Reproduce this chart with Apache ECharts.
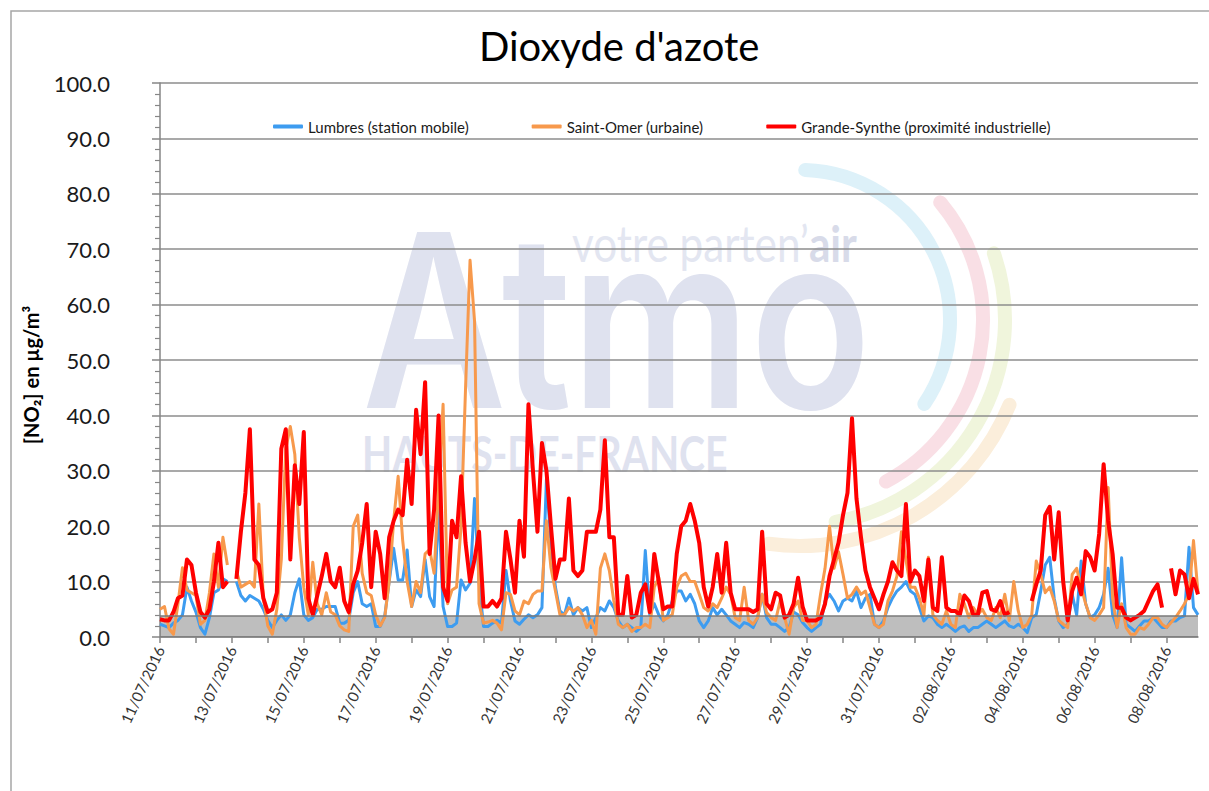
<!DOCTYPE html>
<html>
<head>
<meta charset="utf-8">
<title>Dioxyde d'azote</title>
<script src="https://cdn.jsdelivr.net/npm/echarts@6/dist/echarts.min.js"></script>
<style>
  html, body { margin: 0; padding: 0; background: #fff; }
  #chart { width: 1209px; height: 791px; }
</style>
</head>
<body>
<div id="chart"></div>
<script>
// un point toutes les 3 heures, du 11/07/2016 au 08/08/2016
var days = ['11/07/2016', '12/07/2016', '13/07/2016', '14/07/2016', '15/07/2016', '16/07/2016',
  '17/07/2016', '18/07/2016', '19/07/2016', '20/07/2016', '21/07/2016', '22/07/2016', '23/07/2016',
  '24/07/2016', '25/07/2016', '26/07/2016', '27/07/2016', '28/07/2016', '29/07/2016', '30/07/2016',
  '31/07/2016', '01/08/2016', '02/08/2016', '03/08/2016', '04/08/2016', '05/08/2016', '06/08/2016',
  '07/08/2016', '08/08/2016']
var hours = ['00:00', '03:00', '06:00', '09:00', '12:00', '15:00', '18:00', '21:00']

// Lumbres (station mobile) - 8 valeurs par jour
var lumbres = [
  2.3, 2, 1.7, 2.5, 3, 4, 9, 6.5,
  4.5, 1.7, 0.5, 3.5, 8, 8.5, 10.5, 10,
  null, 10, 7.5, 6.5, 7.5, 7, 6.5, 5,
  3, 1.7, 3, 4, 3, 4, 8, 10.5,
  4, 3, 3.5, 5, 5, 5.5, 5.5, 5.5,
  2.5, 2.5, 3, 8, 10, 6, 5.5, 6,
  1.9, 1.9, 3.7, 10, 16, 10.3, 10.3, 15.7,
  5.5, 8.5, 7.3, 14, 7.3, 5.5, 23.6, 5.5,
  1.9, 1.9, 2.5, 10.3, 8.5, 9.7, 25, 10,
  1.9, 1.9, 2.5, 3, 2.5, 12, 6.5, 2.9,
  2.3, 3.2, 4, 3.5, 4, 5.3, 28.5, 17,
  9, 4.7, 4, 7, 4, 5.3, 4.7, 5.3,
  1.7, 3.5, 5.3, 4.7, 6.5, 5.3, 2.9, 1.7,
  2.3, 1.7, 1, 1.7, 15.6, 4, 6, 4,
  2.9, 4, 6.5, 8.3, 8.3, 6.5, 7.7, 6,
  2.9, 1.7, 2.9, 5.3, 4, 5, 4, 2.9,
  2.3, 1.7, 2.6, 2.3, 1.7, 3.5, 7.7, 3.5,
  2.3, 2.3, 1.7, 1, 1.7, 4.5, 4, 2.6,
  1.7, 1, 1.7, 2.3, 6.5, 7.7, 6.5, 4.7,
  6.5, 7, 6.5, 8.3, 5.3, 7, 7.7, 2.3,
  1.7, 2.9, 5.3, 7, 8.3, 9, 10, 8.3,
  7.7, 5.3, 2.9, 3.8, 3.5, 2.3, 1.7, 2.3,
  1.7, 1, 1.7, 2, 1, 1.7, 1.7, 2.3,
  2.9, 2.3, 1.7, 2.3, 2.9, 2, 1.7, 2.3,
  1.7, 0.8, 3.5, 4, 8.3, 13, 14.4, 7,
  2.9, 1.7, 2.3, 7.7, 4, 13.7, 6, 3.5,
  4, 5.3, 7.7, 12.4, 4, 1.7, 14.3, 2.3,
  1.7, 1, 2, 2.9, 2.9, 3.5, 2.6, 1.7,
  1.7, 2.9, 2.9, 3.5, 3.8, 16.2, 5.3, 4
]

// Saint-Omer (urbaine)
var saintOmer = [
  5, 5.5, 1.5, 0.5, 6, 12.5, 8.5, 8,
  7.5, 2.3, 3, 8, 15, 9, 18, 13,
  null, 12, 9, 9.5, 10, 9, 24, 7,
  2, 0.5, 5, 14, 34, 38, 33, 18,
  9, 4, 13.5, 6, 4, 8, 4.5, 4,
  2, 1.3, 1, 20, 22, 11.5, 8, 7.5,
  4, 2, 3.5, 10, 21, 29, 17.5, 10,
  5.5, 10, 8, 15, 15.8, 11.5, 27, 42,
  6, 8.5, 9, 20, 45, 68, 57, 6,
  2.5, 2.7, 3, 2.5, 1.3, 8, 7.7, 4.7,
  4, 6.5, 6, 7.7, 8.3, 8.3, 21, 12.5,
  8.3, 4, 4, 5.3, 4.7, 5.3, 4, 1.7,
  3, 0.5, 12.4, 15, 12, 6.5, 2.3, 1.7,
  2.3, 1, 1.7, 1.7, 2.3, 1.7, 9, 10.7,
  3, 3.5, 4, 9, 11, 11.5, 10, 10,
  7.7, 5.3, 4.7, 6, 5.3, 7, 9, 7.7,
  3.5, 3, 9, 3, 2.3, 3.5, 7.7, 4.4,
  3.5, 3, 6.5, 3.5, 0.5, 5.3, 6.5, 3,
  3, 1.7, 2.3, 7.7, 12.4, 20, 12.4, 15.4,
  11.3, 7, 7.7, 9, 7.7, 8.3, 5.3, 2.3,
  1.7, 2.3, 6.5, 8.3, 11, 19, 14, 9,
  9, 7, 4, 14.4, 4, 3, 2.3, 4.7,
  2.3, 1.7, 7.7, 6, 3.5, 5.3, 4, 5,
  3.5, 3, 5.3, 3.5, 7.7, 3, 10, 4.7,
  1.7, 2.3, 4, 13.7, 11.3, 8, 9, 6.5,
  3, 2.3, 1.7, 11.3, 12.4, 9, 6, 3.5,
  3, 4, 5.3, 27, 7, 1.7, 6, 1.7,
  0.5, 0.5, 1.7, 1.4, 2.3, 3.5, 3.5, 2.3,
  1.7, 2.6, 3.5, 4.7, 6, 7.7, 17.4, 8
]

// Grande-Synthe (proximité industrielle)
var grandeSynthe = [
  3.2, 3, 3, 4.5, 7, 7.5, 14, 13,
  8, 4.5, 3.5, 5, 10, 17, 9, 10,
  null, 10.5, 19, 26, 37.5, 14, 13, 7,
  4.5, 5, 8, 34, 37.5, 14, 31, 24,
  37, 7, 4, 7.5, 11, 15, 10, 9,
  12.5, 6.5, 4.5, 9.5, 12, 17, 24, 9,
  19, 15, 7, 18, 21, 23, 22, 32,
  24, 41, 33, 46, 15, 23, 40, 9,
  6.5, 21, 18, 29, 17, 10, 14, 19,
  5.5, 5.5, 6.5, 5.5, 7, 19, 14, 8,
  21, 14.5, 42, 30, 19, 35, 30, 20,
  10.5, 14, 14, 25, 12, 11, 12, 19,
  19, 19, 23, 35.5, 18, 18, 4, 4,
  11, 3.5, 4, 8, 9.5, 4.5, 15, 10,
  5, 5.5, 5.5, 15, 20, 21, 24, 21,
  17, 9, 5.5, 9, 15, 8, 17, 8,
  5, 5, 5, 5, 4.5, 5, 19, 6,
  5, 8, 7.5, 3.5, 4, 6, 10.7, 5.5,
  3, 3, 3, 3.5, 6, 11, 14, 17,
  22, 26, 39.5, 25, 18, 12, 9, 7,
  5, 7.7, 10, 13.5, 12, 11, 24, 10,
  12, 11, 6.5, 14, 5.3, 4.7, 14.4, 5.3,
  4.7, 4.7, 4, 7.5, 6.5, 4, 4, 8,
  8.3, 5, 4.7, 6.5, 4, 4.5, null, null,
  null, null, 6.5, 9.5, 12, 22, 23.5, 14,
  22.5, 10, 3, 8.3, 10.7, 7.7, 15.5, 14.4,
  12, 18.6, 31.2, 21, 15, 5.3, 5.3, 3.5,
  3, 3.5, 4, 4.7, 6.5, 8.3, 9.5, 5.3,
  null, 12.4, 7.7, 12, 11.3, 7, 10.5, 7.7
]

// bande grise en bas du graphique
var bandTop = 3.8

var categories = []
days.forEach(function (d) {
  hours.forEach(function (h) { categories.push(d + ' ' + h) })
})

var font = 'Lato, "Open Sans", sans-serif'
var names = ['Lumbres (station mobile)', 'Saint-Omer (urbaine)', 'Grande-Synthe (proximité industrielle)']

function deg (a) { return a * Math.PI / 180 }

var chart = echarts.init(document.getElementById('chart'), null, { renderer: 'svg' })

var option = {
  backgroundColor: '#ffffff',
  animation: false,
  title: {
    text: "Dioxyde d'azote",
    left: 474,
    top: 21,
    textStyle: { fontFamily: font, fontSize: 40, fontWeight: 'normal', color: '#000' }
  },
  legend: {
    data: names,
    left: 268,
    top: 114,
    icon: 'roundRect',
    itemWidth: 30,
    itemHeight: 4,
    itemGap: 63,
    textStyle: { fontFamily: font, fontSize: 15, color: '#1a1a1a' }
  },
  grid: { left: 160, right: 11, top: 83, bottom: 154 },
  graphic: [
    // cadre
    { type: 'rect', z: -3, silent: true, shape: { x: 11, y: 11, width: 1400, height: 1000 },
      style: { fill: '#fff', stroke: '#a6a6a6', lineWidth: 1.5 } },
    // filigrane Atmo
    { type: 'arc', z: -2, silent: true, shape: { cx: 800, cy: 320, r: 150, startAngle: deg(-88), endAngle: deg(34), clockwise: true },
      style: { fill: 'none', stroke: '#ddf1f9', lineWidth: 14, lineCap: 'round' } },
    { type: 'arc', z: -2, silent: true, shape: { cx: 800, cy: 320, r: 183, startAngle: deg(-40), endAngle: deg(62), clockwise: true },
      style: { fill: 'none', stroke: '#f9dfe5', lineWidth: 14, lineCap: 'round' } },
    { type: 'arc', z: -2, silent: true, shape: { cx: 800, cy: 320, r: 205, startAngle: deg(-19), endAngle: deg(80), clockwise: true },
      style: { fill: 'none', stroke: '#f0f5dc', lineWidth: 14, lineCap: 'round' } },
    { type: 'arc', z: -2, silent: true, shape: { cx: 800, cy: 320, r: 226, startAngle: deg(22), endAngle: deg(98), clockwise: true },
      style: { fill: 'none', stroke: '#fbeedb', lineWidth: 14, lineCap: 'round' } },
    { type: 'text', z: -2, silent: true, x: 362, y: 320, scaleX: 0.82,
      style: { text: 'Atmo', fontFamily: 'Inter, Lato, sans-serif', fontWeight: 600, fontSize: 242, fill: '#dfe2ef', verticalAlign: 'middle' } },
    { type: 'text', z: -2, silent: true, x: 572, y: 243, scaleX: 0.845,
      style: {
        text: '{a|votre parten\u2019}{b|air}',
        verticalAlign: 'middle',
        rich: {
          a: { fontFamily: font, fontSize: 50, fill: '#e3e6f1' },
          b: { fontFamily: font, fontSize: 50, fontWeight: 'bold', fill: '#d8dbe9' }
        }
      } },
    { type: 'text', z: -2, silent: true, x: 362, y: 453, scaleX: 0.8,
      style: { text: 'HAUTS-DE-FRANCE', fontFamily: font, fontWeight: 'bold', fontSize: 49, fill: '#dfe2ef', verticalAlign: 'middle' } },
    // titre de l'axe vertical
    { type: 'text', silent: true, x: 31, y: 375, rotation: Math.PI / 2,
      style: { text: '[NO\u2082] en \u00b5g/m\u00b3', fontFamily: font, fontWeight: 'bold', fontSize: 20, fill: '#000', align: 'center', verticalAlign: 'middle' } }
  ],
  xAxis: {
    type: 'category',
    data: categories,
    boundaryGap: false,
    axisLine: { lineStyle: { color: '#868686', width: 1.5 } },
    axisTick: {
      interval: function (i) { return i % 8 === 0 },
      length: 6,
      lineStyle: { color: '#868686', width: 1.5 }
    },
    axisLabel: {
      interval: function (i) { return i % 16 === 0 },
      rotate: 65,
      margin: 10,
      fontFamily: font,
      fontSize: 15,
      color: '#333333',
      formatter: function (v) { return v.slice(0, 10) }
    },
    splitLine: { show: false }
  },
  yAxis: {
    type: 'value',
    min: 0,
    max: 100,
    interval: 10,
    axisLine: { show: true, lineStyle: { color: '#868686', width: 1.5 } },
    axisTick: { show: true, length: 8, lineStyle: { color: '#868686', width: 1.5 } },
    minorTick: { show: true, splitNumber: 5, length: 5, lineStyle: { color: '#868686', width: 1.2 } },
    axisLabel: {
      margin: 50,
      fontFamily: font,
      fontSize: 22,
      color: '#1a1a1a',
      formatter: function (v) { return v.toFixed(1) }
    },
    splitLine: { lineStyle: { color: '#8c8c8c', width: 1.5 } }
  },
  series: [
    {
      name: names[0], type: 'line', data: lumbres, showSymbol: false, connectNulls: false,
      color: '#3d9cf0', lineStyle: { width: 3, color: '#3d9cf0', join: 'round' }
    },
    {
      name: names[1], type: 'line', data: saintOmer, showSymbol: false, connectNulls: false,
      color: '#f7994c', lineStyle: { width: 3, color: '#f7994c', join: 'round' }
    },
    {
      name: names[2], type: 'line', data: grandeSynthe, showSymbol: false, connectNulls: false,
      color: '#ff0000', lineStyle: { width: 4, color: '#ff0000', join: 'round' }
    },
    {
      // bande grise semi-transparente, au-dessus des courbes
      name: 'bande', type: 'line', silent: true, showSymbol: false,
      data: [[0, bandTop], [categories.length - 1, bandTop]],
      lineStyle: { color: '#7a7a7a', width: 1.5 },
      areaStyle: { color: 'rgba(110,110,110,0.45)', opacity: 1 }
    }
  ]
}

chart.setOption(option)
</script>
</body>
</html>
